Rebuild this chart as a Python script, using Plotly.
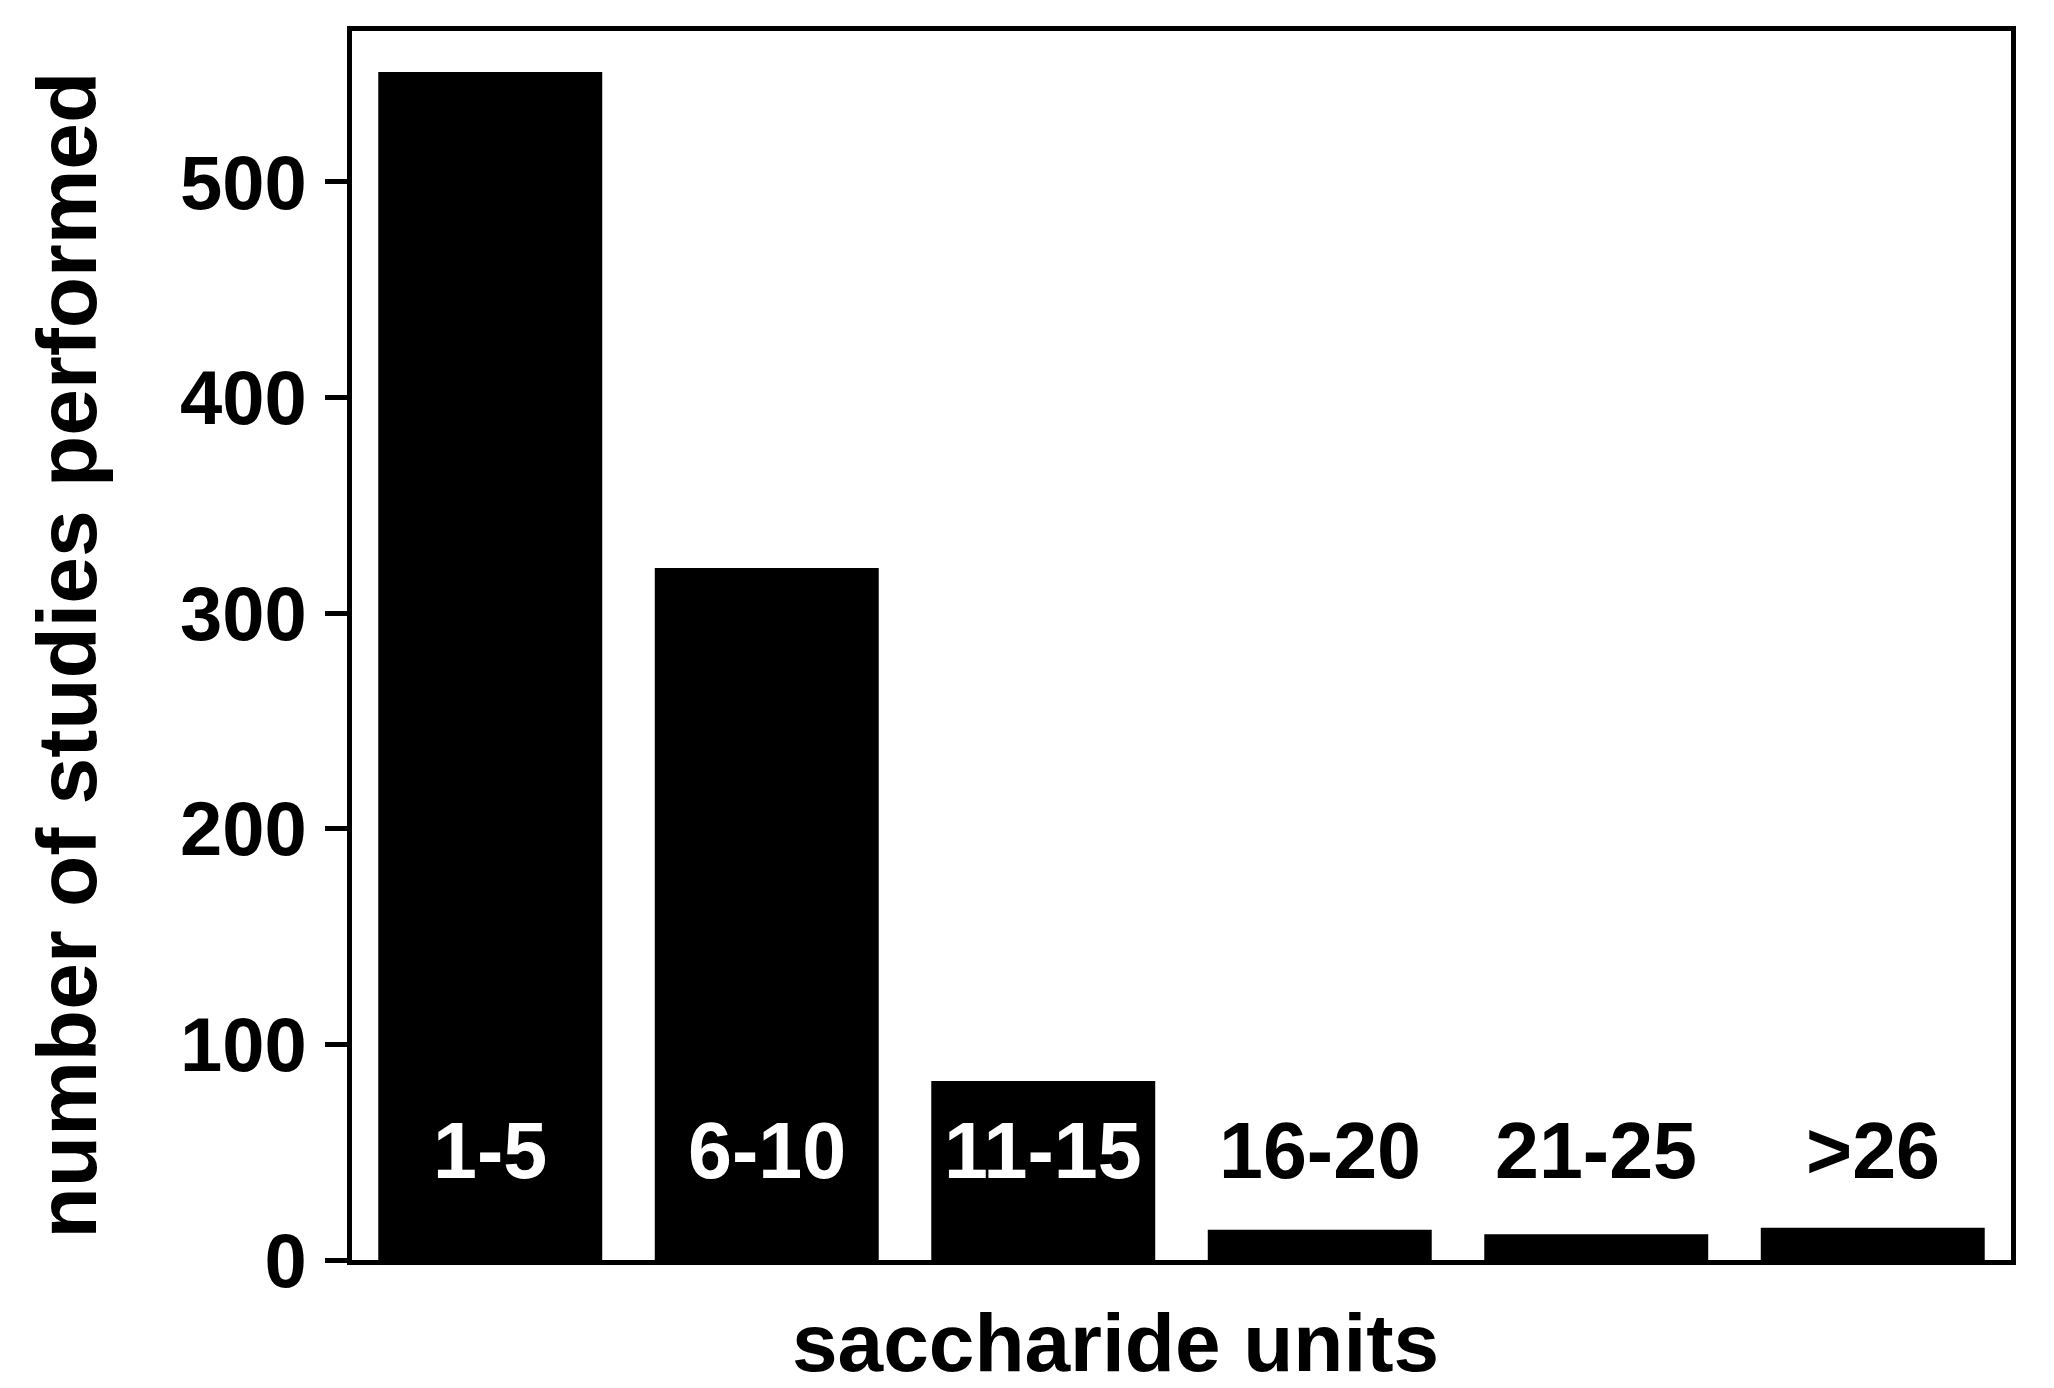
import plotly.graph_objects as go

categories = ["1-5", "6-10", "11-15", "16-20", "21-25", ">26"]
studies = [551, 321, 83, 14, 12, 15]
label_colors = ["white", "white", "white", "black", "black", "black"]
y_ticks = [0, 100, 200, 300, 400, 500]
label_level = 51

FONT = "Liberation Sans, Arial, sans-serif"

fig = go.Figure()
fig.add_trace(go.Bar(
    x=list(range(len(categories))),
    y=studies,
    marker=dict(color="black", line=dict(width=0)),
    width=0.81,
    showlegend=False,
))

for i, (cat, col) in enumerate(zip(categories, label_colors)):
    fig.add_annotation(
        x=i, y=label_level, xref="x", yref="y",
        text=f"<b>{cat}</b>", showarrow=False,
        font=dict(family=FONT, size=79, color=col),
        xanchor="center", yanchor="middle",
    )

fig.add_annotation(
    x=-0.1718, y=0.4927, xref="paper", yref="paper",
    text="<b>number of studies performed</b>", showarrow=False,
    textangle=-90, font=dict(family=FONT, size=84, color="black"),
    xanchor="center", yanchor="middle",
)
fig.add_annotation(
    x=0.46, y=-0.0675, xref="paper", yref="paper",
    text="<b>saccharide units</b>", showarrow=False,
    font=dict(family=FONT, size=82, color="black"),
    xanchor="center", yanchor="middle",
)

fig.update_layout(
    width=2054, height=1388,
    margin=dict(l=344, r=51, t=23, b=136),
    paper_bgcolor="white", plot_bgcolor="white",
    font=dict(family=FONT, color="black"),
    bargap=0.19,
)
fig.update_xaxes(
    range=[-0.5, 5.5], showticklabels=False, ticks="",
    showline=True, linecolor="black", linewidth=5, mirror=True,
    showgrid=False, zeroline=False,
)
fig.update_yaxes(
    range=[0, 570], tickvals=y_ticks,
    ticktext=[f"<b>{v}</b>" for v in y_ticks],
    tickfont=dict(family=FONT, size=76, color="black"),
    ticks="outside", ticklen=22, tickwidth=5, tickcolor="black",
    ticklabelstandoff=3,
    showline=True, linecolor="black", linewidth=5, mirror=True,
    showgrid=False, zeroline=False,
)

fig.write_html("out.html")
